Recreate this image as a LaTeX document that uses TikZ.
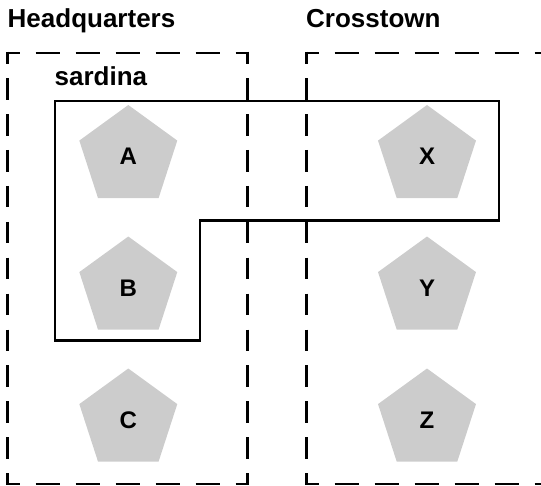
\documentclass[tikz,border=0pt]{standalone}
\usepackage{fontspec}
\setmainfont{Liberation Sans}
\usetikzlibrary{shapes.geometric,calc}
\definecolor{pentgray}{HTML}{CCCCCC}
\newcommand\myheadfont{\fontsize{26bp}{30bp}\selectfont\bfseries}
\newcommand\mylabfont{\fontsize{24bp}{28bp}\selectfont\bfseries}
\tikzset{
  pent/.style={regular polygon, regular polygon sides=5, fill=pentgray,
    minimum size=103bp, inner sep=0pt, font=\mylabfont, text=black},
  heading/.style={anchor=base west, inner sep=0pt, font=\myheadfont},
  hside/.style={line width=2.5bp, dash pattern=on 24bp off 16bp, dash phase=10.75bp},
  vside/.style={line width=2.5bp, dash pattern=on 21.55bp off 14.367bp, dash phase=9.525bp},
  outline/.style={line width=2.5bp, line join=miter},
}
\begin{document}
\begin{tikzpicture}[x=1bp, y=-1bp]
\useasboundingbox (0,0) rectangle (541,486);
\clip (0,0) rectangle (541,486);
% corners of the two dashed location boxes
\coordinate (hq-nw) at (7.5,53);
\coordinate (hq-ne) at (247.5,53);
\coordinate (hq-sw) at (7.5,484);
\coordinate (hq-se) at (247.5,484);
\coordinate (ct-nw) at (306.7,53);
\coordinate (ct-ne) at (546.7,53);
\coordinate (ct-sw) at (306.7,484);
\coordinate (ct-se) at (546.7,484);
% dashed sides, each starting and ending with half a dash
\foreach \b in {hq,ct}{
  \draw[hside] ($(\b-nw)+(-1.25,0)$) -- ($(\b-ne)+(1.25,0)$);
  \draw[hside] ($(\b-sw)+(-1.25,0)$) -- ($(\b-se)+(1.25,0)$);
  \draw[vside] ($(\b-nw)+(0,-1.25)$) -- ($(\b-sw)+(0,1.25)$);
  \draw[vside] ($(\b-ne)+(0,-1.25)$) -- ($(\b-se)+(0,1.25)$);
}
% headings
\node[heading] (hq) at (7.5,28) {Headquarters};
\node[heading] (ct) at (306,28) {Crosstown};
\node[heading] (sard) at (54.5,86) {sardina};
% sardina outline
\coordinate (s1) at (55,101);
\coordinate (s2) at (499,101);
\coordinate (s3) at (499,220.5);
\coordinate (s4) at (200,220.5);
\coordinate (s5) at (200,340.7);
\coordinate (s6) at (55,340.7);
\draw[outline] (s1) -- (s2) -- (s3) -- (s4) -- (s5) -- (s6) -- cycle;
% pentagons
\node[pent] (A) at (128.3,156.5) {A};
\node[pent] (B) at (128.3,288) {B};
\node[pent] (C) at (128.3,420) {C};
\node[pent] (X) at (427,156.5) {X};
\node[pent] (Y) at (427,288) {Y};
\node[pent] (Z) at (427,420) {Z};
\end{tikzpicture}
\end{document}
